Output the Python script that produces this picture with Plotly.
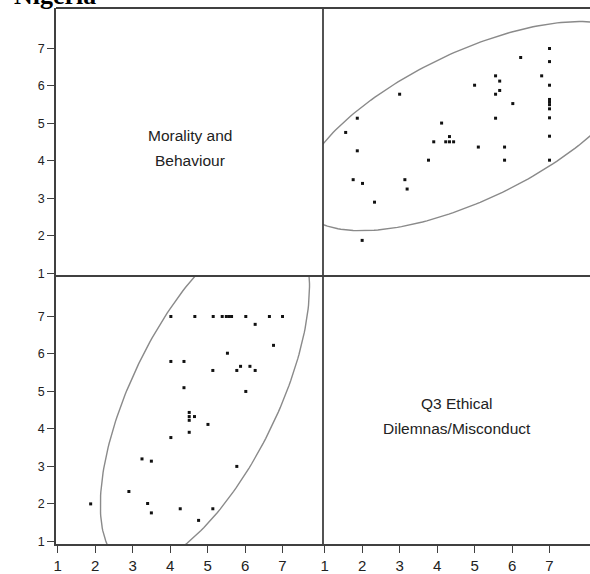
import numpy as np
import plotly.graph_objects as go

# ---- data ----
morality = [4.02, 4.66, 5.15, 5.39, 5.50, 5.57, 5.64, 6.02, 6.65, 7.00,
            6.27, 6.76, 5.53, 4.02, 4.37, 5.88, 6.13, 5.14, 5.78, 6.27,
            4.37, 6.02, 4.51, 4.51, 4.51, 4.65, 5.01, 4.51, 4.02, 3.25,
            3.50, 5.78, 2.90, 1.88, 3.40, 3.50, 4.27, 5.14, 4.76]
q3 = [7.00, 7.00, 7.00, 7.00, 7.00, 7.00, 7.00, 7.00, 7.00, 7.00,
      6.79, 6.23, 6.02, 5.80, 5.80, 5.67, 5.67, 5.56, 5.56, 5.56,
      5.10, 5.00, 4.44, 4.33, 4.23, 4.33, 4.12, 3.91, 3.77, 3.20,
      3.14, 3.00, 2.33, 2.00, 2.01, 1.76, 1.87, 1.87, 1.56]
tick_vals = [1, 2, 3, 4, 5, 6, 7]
tick_text = ["1", "2", "3", "4", "5", "6", "7"]
var_label_1 = ["Morality and", "Behaviour"]
var_label_2 = ["Q3 Ethical", "Dilemnas/Misconduct"]
title_text = "Nigeria"
ellipse_prob = 0.95

AXIS_RANGE = [0.955, 8.08]
YAXIS_RANGE = [0.93, 8.08]
LINE_COL = "#404040"
ELL_COL = "#8a8a8a"
FONT = "Arial, Liberation Sans, sans-serif"


def density_ellipse(xs, ys, p, n=240):
    xs = np.asarray(xs, float)
    ys = np.asarray(ys, float)
    mu = np.array([xs.mean(), ys.mean()])
    cov = np.cov(np.vstack([xs, ys]))
    k = np.sqrt(-2.0 * np.log(1.0 - p))
    vals, vecs = np.linalg.eigh(cov)
    t = np.linspace(0, 2 * np.pi, n)
    circ = np.vstack([np.cos(t), np.sin(t)])
    pts = vecs @ (np.sqrt(vals)[:, None] * circ) * k + mu[:, None]
    return pts[0], pts[1]


fig = go.Figure()

# top-right: x = Q3, y = Morality
ex, ey = density_ellipse(q3, morality, ellipse_prob)
fig.add_trace(go.Scatter(x=ex, y=ey, mode="lines", xaxis="x2", yaxis="y2",
                         line=dict(color=ELL_COL, width=1.4), hoverinfo="skip"))
fig.add_trace(go.Scatter(x=q3, y=morality, mode="markers", xaxis="x2", yaxis="y2",
                         marker=dict(symbol="square", size=3, color="#111")))

# bottom-left: x = Morality, y = Q3
ex, ey = density_ellipse(morality, q3, ellipse_prob)
fig.add_trace(go.Scatter(x=ex, y=ey, mode="lines", xaxis="x3", yaxis="y3",
                         line=dict(color=ELL_COL, width=1.4), hoverinfo="skip"))
fig.add_trace(go.Scatter(x=morality, y=q3, mode="markers", xaxis="x3", yaxis="y3",
                         marker=dict(symbol="square", size=3, color="#111")))

# invisible anchors for diagonal panels
fig.add_trace(go.Scatter(x=[], y=[], xaxis="x", yaxis="y"))
fig.add_trace(go.Scatter(x=[], y=[], xaxis="x4", yaxis="y4"))

tick_axis = dict(tickmode="array", tickvals=tick_vals, ticktext=tick_text,
                 ticks="outside", ticklen=7, tickwidth=1.3, tickcolor=LINE_COL,
                 showline=True, linecolor=LINE_COL, linewidth=1.6,
                 showgrid=False, zeroline=False)
plain_axis = dict(showticklabels=False, ticks="", showline=False,
                  showgrid=False, zeroline=False)

xt = dict(tick_axis, tickfont=dict(family=FONT, size=15, color="#222"), range=AXIS_RANGE)
yt = dict(tick_axis, tickfont=dict(family=FONT, size=12.5, color="#222"), range=YAXIS_RANGE)

fig.update_layout(
    width=590, height=574,
    margin=dict(l=55.5, r=0, t=7.7, b=29.7),
    paper_bgcolor="white", plot_bgcolor="white",
    showlegend=False,
    xaxis=dict(plain_axis, domain=[0, 0.5], anchor="y", range=AXIS_RANGE),
    yaxis=dict(yt, domain=[0.5, 1], anchor="x"),
    xaxis2=dict(plain_axis, domain=[0.5, 1], anchor="y2", range=AXIS_RANGE),
    yaxis2=dict(plain_axis, domain=[0.5, 1], anchor="x2", range=YAXIS_RANGE),
    xaxis3=dict(xt, domain=[0, 0.5], anchor="y3"),
    yaxis3=dict(yt, domain=[0, 0.5], anchor="x3"),
    xaxis4=dict(xt, domain=[0.5, 1], anchor="y4"),
    yaxis4=dict(plain_axis, domain=[0, 0.5], anchor="x4", range=YAXIS_RANGE),
)

# frame / dividers
for sh in [dict(x0=0, x1=1, y0=1, y1=1), dict(x0=0, x1=1, y0=0.5, y1=0.5),
           dict(x0=0.5, x1=0.5, y0=0, y1=1)]:
    fig.add_shape(type="line", xref="paper", yref="paper",
                  line=dict(color=LINE_COL, width=1.8), **sh)

mid_x = (AXIS_RANGE[0] + AXIS_RANGE[1]) / 2
for (xr, yr, lines) in [("x", "y", var_label_1), ("x4", "y4", var_label_2)]:
    for txt, yv in zip(lines, [4.68, 4.0]):
        fig.add_annotation(x=mid_x, y=yv, xref=xr, yref=yr, text=txt,
                           showarrow=False,
                           font=dict(family=FONT, size=15.5, color="#222"))

fig.add_annotation(x=(11 - 55.5) / 534.5, y=1, xref="paper", yref="paper",
                   xanchor="left", yanchor="bottom", yshift=-4,
                   text="<b>" + title_text + "</b>", showarrow=False,
                   font=dict(family="Times New Roman, Liberation Serif, serif",
                             size=26, color="#000"))

fig.write_html("out.html",
               config={"displayModeBar": False},
               post_script="document.body.style.margin='0';"
                           "document.body.style.overflow='hidden';")
